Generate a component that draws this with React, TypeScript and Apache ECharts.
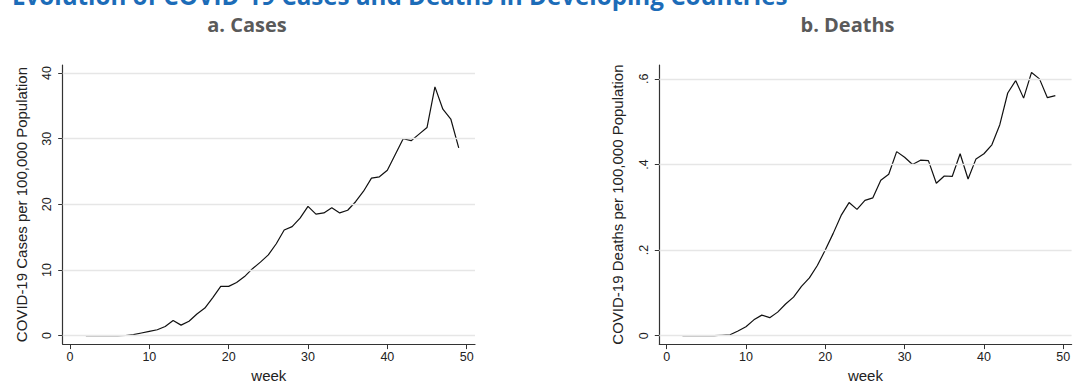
import React, { useEffect, useRef } from "react";
import * as echarts from "echarts";

const weeks = [2, 3, 4, 5, 6, 7, 8, 9, 10, 11, 12, 13, 14, 15, 16, 17, 18, 19, 20, 21, 22, 23, 24, 25, 26, 27, 28, 29, 30, 31, 32, 33, 34, 35, 36, 37, 38, 39, 40, 41, 42, 43, 44, 45, 46, 47, 48, 49];

const cases = [0, 0, 0, 0, 0, 0.02, 0.15, 0.4, 0.65, 0.9, 1.4, 2.3, 1.6, 2.2, 3.3, 4.2, 5.8, 7.5, 7.5, 8.1, 9.0, 10.2, 11.2, 12.3, 14.0, 16.1, 16.6, 17.9, 19.7, 18.5, 18.7, 19.5, 18.7, 19.1, 20.4, 22.0, 24.0, 24.2, 25.2, 27.6, 30.0, 29.7, 30.7, 31.7, 37.9, 34.5, 33.0, 28.6];

const deaths = [0, 0, 0, 0, 0, 0.001, 0.002, 0.011, 0.021, 0.037, 0.048, 0.042, 0.055, 0.074, 0.09, 0.115, 0.135, 0.164, 0.2, 0.239, 0.281, 0.311, 0.295, 0.316, 0.322, 0.363, 0.377, 0.43, 0.417, 0.4, 0.41, 0.409, 0.356, 0.373, 0.372, 0.425, 0.366, 0.413, 0.425, 0.446, 0.493, 0.567, 0.596, 0.555, 0.615, 0.6, 0.556, 0.561];

const xTicks = [0, 10, 20, 30, 40, 50];
const casesTicks = [0, 10, 20, 30, 40];
const deathsTicks = [0, 0.2, 0.4, 0.6];

const mainTitle = "Evolution of COVID-19 Cases and Deaths in Developing Countries";
const panelTitles = ["a. Cases", "b. Deaths"];
const yNames = ["COVID-19 Cases per 100,000 Population", "COVID-19 Deaths per 100,000 Population"];
const xName = "week";

const tickFont = "Liberation Sans, Arial, sans-serif";
const headFont = "Open Sans, Lato, sans-serif";

function xAxisCfg(gridIndex: number) {
  return {
    type: "value",
    gridIndex,
    min: -0.92,
    max: 51.05,
    name: xName,
    nameLocation: "middle",
    nameGap: 21,
    nameTextStyle: { fontFamily: tickFont, fontSize: 15, color: "#222" },
    axisLine: { show: true, onZero: false, lineStyle: { color: "#333", width: 1.2 } },
    axisTick: { show: true, customValues: xTicks, length: 5, lineStyle: { color: "#333", width: 1 } },
    axisLabel: {
      customValues: xTicks,
      margin: 6,
      fontFamily: tickFont,
      fontSize: 12.5,
      color: "#222",
    },
    splitLine: { show: false },
  };
}

function yAxisCfg(gridIndex: number, min: number, max: number, ticks: number[], name: string, fmt: (v: number) => string) {
  return {
    type: "value",
    gridIndex,
    min,
    max,
    name,
    nameLocation: "middle",
    nameRotate: 90,
    nameGap: 34,
    nameTextStyle: { fontFamily: tickFont, fontSize: 15, color: "#222" },
    axisLine: { show: true, onZero: false, lineStyle: { color: "#333", width: 1.2 } },
    axisTick: { show: true, customValues: ticks, length: 4.5, lineStyle: { color: "#333", width: 1 } },
    axisLabel: {
      customValues: ticks,
      rotate: 90,
      margin: 9,
      fontFamily: tickFont,
      fontSize: 12.5,
      color: "#222",
      formatter: fmt,
    },
    splitLine: { show: false },
  };
}

function gridLinesSeries(axisIndex: number, ticks: number[]) {
  return {
    type: "line",
    xAxisIndex: axisIndex,
    yAxisIndex: axisIndex,
    data: [[0, ticks[0]]],
    symbol: "none",
    lineStyle: { opacity: 0 },
    silent: true,
    z: 1,
    markLine: {
      silent: true,
      symbol: "none",
      label: { show: false },
      lineStyle: { color: "#e6e6e6", type: "solid", width: 1.3 },
      data: ticks.map((t) => ({ yAxis: t })),
    },
  };
}

export default function App() {
  const ref = useRef<HTMLDivElement>(null);
  useEffect(() => {
    if (!ref.current) return;
    const chart = echarts.init(ref.current, undefined, { renderer: "svg" });
    const casesData = weeks.map((w, i) => [w, cases[i]]);
    const deathsData = weeks.map((w, i) => [w, deaths[i]]);
    chart.setOption({
      animation: false,
      backgroundColor: "#ffffff",
      grid: [
        { left: 62.7, top: 65, width: 412.3, height: 287.7 },
        { left: 659.3, top: 65, width: 412.3, height: 287.7 },
      ],
      xAxis: [xAxisCfg(0), xAxisCfg(1)],
      yAxis: [
        yAxisCfg(0, -1.29, 41.23, casesTicks, yNames[0], (v: number) => String(v)),
        yAxisCfg(1, -0.0197, 0.6324, deathsTicks, yNames[1], (v: number) =>
          v === 0 ? "0" : String(Math.round(v * 10) / 10).replace(/^0/, "")
        ),
      ],
      graphic: [
        {
          type: "text",
          x: 12,
          y: -17,
          style: {
            text: mainTitle,
            verticalAlign: "top",
            fontFamily: headFont,
            fontWeight: "bold",
            fontSize: 24.2,
            fill: "#1c6cb8",
          },
        },
        {
          type: "text",
          x: 247,
          y: 24,
          style: {
            text: panelTitles[0],
            align: "center",
            verticalAlign: "middle",
            fontFamily: headFont,
            fontWeight: "bold",
            fontSize: 20,
            fill: "#5a5a5a",
          },
        },
        {
          type: "text",
          x: 847.5,
          y: 24,
          style: {
            text: panelTitles[1],
            align: "center",
            verticalAlign: "middle",
            fontFamily: headFont,
            fontWeight: "bold",
            fontSize: 20,
            fill: "#5a5a5a",
          },
        },
      ],
      series: [
        gridLinesSeries(0, casesTicks),
        gridLinesSeries(1, deathsTicks),
        {
          type: "line",
          xAxisIndex: 0,
          yAxisIndex: 0,
          data: casesData,
          symbol: "none",
          z: 3,
          lineStyle: { color: "#111", width: 1.2 },
        },
        {
          type: "line",
          xAxisIndex: 1,
          yAxisIndex: 1,
          data: deathsData,
          symbol: "none",
          z: 3,
          lineStyle: { color: "#111", width: 1.2 },
        },
      ],
    });
    return () => chart.dispose();
  }, []);
  return (
    <div
      ref={ref}
      style={{ position: "fixed", left: 0, top: 0, width: 1081, height: 388, background: "#fff" }}
    />
  );
}
